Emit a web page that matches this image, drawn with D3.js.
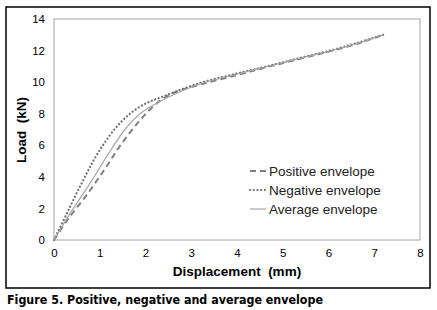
<!DOCTYPE html>
<html>
<head>
<meta charset="utf-8">
<script src="https://cdn.jsdelivr.net/npm/d3@7"></script>
<style>
  body { margin: 0; background: #fff; }
  svg { display: block; font-family: "Liberation Sans", Arial, sans-serif; }
</style>
</head>
<body>
<div id="chart"></div>
<script>
// Envelope curves (displacement in mm, load in kN)
const positiveX = [0, 0.3, 0.7, 1.1, 1.44, 1.84, 2.24, 2.6, 3.2, 4, 4.65, 5.4, 6.1, 6.7, 7.2];
const positiveY = [0, 1.3, 2.8, 4.45, 5.95, 7.45, 8.65, 9.3, 9.85, 10.45, 10.95, 11.5, 12.0, 12.5, 13.0];
const negativeX = [0, 0.3, 0.64, 1.0, 1.44, 1.88, 2.39, 3.2, 4, 4.65, 5.4, 6.1, 6.7, 7.2];
const negativeY = [0, 1.8, 3.8, 5.7, 7.4, 8.45, 9.1, 9.95, 10.55, 11.0, 11.55, 12.05, 12.55, 13.0];
const averageX = [0, 0.3, 0.79, 1.22, 1.55, 1.88, 2.46, 3.2, 4, 4.65, 5.4, 6.1, 6.7, 7.2];
const averageY = [0, 1.45, 3.6, 5.6, 7.0, 8.0, 9.0, 9.9, 10.5, 10.98, 11.52, 12.02, 12.52, 13.0];
const xTicks = [0, 1, 2, 3, 4, 5, 6, 7, 8];
const yTicks = [0, 2, 4, 6, 8, 10, 12, 14];
const seriesNames = ["Positive envelope", "Negative envelope", "Average envelope"];

const width = 437;
const height = 310;
const plot = { left: 54, right: 420, top: 19, bottom: 240 };

const svg = d3.select("#chart").append("svg").attr("width", width).attr("height", height);

// Outer frame
svg.append("rect")
  .attr("x", 6).attr("y", 7).attr("width", 424).attr("height", 281)
  .attr("fill", "none").attr("stroke", "#000").attr("stroke-width", 1.5);

const x = d3.scaleLinear().domain([0, 8]).range([plot.left, plot.right]);
const y = d3.scaleLinear().domain([0, 14]).range([plot.bottom, plot.top]);

// Plot area border
svg.append("rect")
  .attr("x", plot.left).attr("y", plot.top)
  .attr("width", plot.right - plot.left).attr("height", plot.bottom - plot.top)
  .attr("fill", "none").attr("stroke", "#a6a6a6").attr("stroke-width", 1);

// Axes
const xAxis = svg.append("g")
  .attr("transform", `translate(0,${plot.bottom})`)
  .call(d3.axisBottom(x).tickValues(xTicks).tickSize(0).tickPadding(9).tickFormat(d3.format("d")));
const yAxis = svg.append("g")
  .attr("transform", `translate(${plot.left},0)`)
  .call(d3.axisLeft(y).tickValues(yTicks).tickSize(0).tickPadding(9).tickFormat(d3.format("d")));
[xAxis, yAxis].forEach((g) => {
  g.select(".domain").remove();
  g.selectAll("text").attr("font-size", 11.5).attr("fill", "#000").attr("font-family", "Liberation Sans, Arial, sans-serif");
});

// Axis titles
svg.append("text")
  .attr("x", 237).attr("y", 276)
  .attr("text-anchor", "middle").attr("font-size", 13.5).attr("font-weight", "bold")
  .attr("xml:space", "preserve")
  .text("Displacement  (mm)");
svg.append("text")
  .attr("transform", "translate(26,130) rotate(-90)")
  .attr("text-anchor", "middle").attr("font-size", 13.5).attr("font-weight", "bold")
  .attr("xml:space", "preserve")
  .text("Load  (kN)");

// Lines
const line = d3.line().x((d) => x(d[0])).y((d) => y(d[1])).curve(d3.curveCatmullRom.alpha(0.5));
const series = [
  { xs: positiveX, ys: positiveY, color: "#7f7f7f", width: 2, dash: "6,4", cap: "butt" },
  { xs: negativeX, ys: negativeY, color: "#6e6e6e", width: 2.2, dash: "0.1,3.6", cap: "round" },
  { xs: averageX, ys: averageY, color: "#a6a6a6", width: 1.2, dash: null, cap: "butt" },
];

series.forEach((s) => {
  svg.append("path")
    .datum(d3.zip(s.xs, s.ys))
    .attr("d", line)
    .attr("fill", "none")
    .attr("stroke", s.color)
    .attr("stroke-width", s.width)
    .attr("stroke-dasharray", s.dash)
    .attr("stroke-linecap", s.cap);
});

// Legend
const legend = svg.append("g").attr("transform", "translate(250,171)");
seriesNames.forEach((name, i) => {
  const s = series[i];
  const row = legend.append("g").attr("transform", `translate(0,${i * 19})`);
  row.append("line")
    .attr("x1", 0).attr("x2", 16).attr("y1", 0).attr("y2", 0)
    .attr("stroke", s.color).attr("stroke-width", s.width)
    .attr("stroke-dasharray", s.dash).attr("stroke-linecap", s.cap);
  row.append("text")
    .attr("x", 19).attr("y", 4.8)
    .attr("font-size", 13.5).attr("fill", "#222")
    .text(name);
});

// Caption
svg.append("text")
  .attr("x", 7).attr("y", 304)
  .attr("font-size", 12).attr("font-weight", "bold")
  .attr("font-family", "DejaVu Sans, sans-serif")
  .attr("textLength", 316).attr("lengthAdjust", "spacingAndGlyphs")
  .text("Figure 5. Positive, negative and average envelope");
</script>
</body>
</html>
